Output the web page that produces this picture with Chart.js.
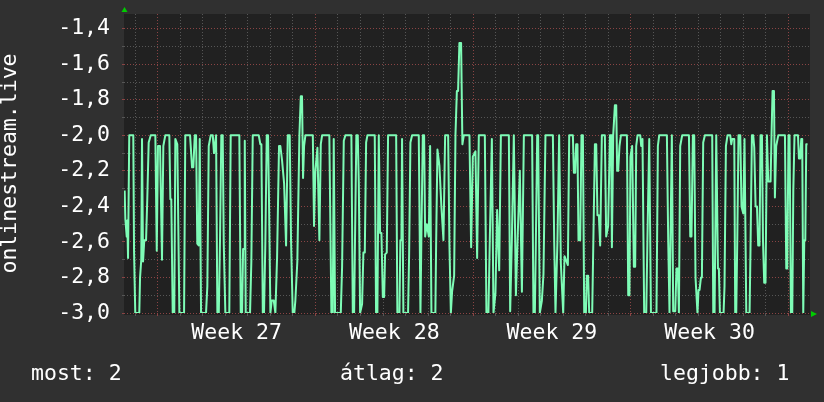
<!DOCTYPE html>
<html>
<head>
<meta charset="utf-8">
<script src="https://cdn.jsdelivr.net/npm/chart.js@4/dist/chart.umd.min.js"></script>
<style>
  html, body { margin: 0; padding: 0; background: #303030; }
</style>
</head>
<body>
<canvas id="chart" width="824" height="402"></canvas>
<script>
// hours since the left edge of the graph, and the value at that moment
const hours = [
  0.7, 1.4, 2.9, 3.5, 4.3, 5.6, 9.9, 10.7, 12.0, 16.3, 17.1, 18.4, 19.2, 20.3, 21.6, 23.5, 24.8, 26.3, 28.5, 33.4, 34.9, 36.2, 38.4, 40.5, 41.9, 44.0, 48.3, 49.4, 50.4, 51.9, 53.6, 54.7, 56.8, 59.0, 64.0, 65.3, 70.4, 72.5, 73.9, 75.4, 76.8, 78.1, 79.6, 80.7, 82.1, 87.4, 88.8, 90.3, 92.4, 94.6, 95.9, 98.1, 99.5, 101.0, 102.3, 103.7, 105.2, 106.3, 108.0, 112.2, 113.7, 122.9,
  124.4, 125.8, 126.9, 127.9, 128.7, 129.7, 134.3, 135.7, 137.2, 143.6, 145.3, 146.4, 147.9, 149.2, 150.6, 152.1, 153.5, 154.6, 156.0, 157.4, 159.6, 161.3, 163.1, 165.2, 166.6, 168.4, 170.6, 172.7, 174.5, 176.6, 178.0, 179.8, 181.5, 182.6, 184.7, 186.9, 188.4, 189.7, 190.8, 191.9, 193.3, 201.2, 202.5, 203.9, 206.1, 208.2, 209.7, 211.1, 218.8, 221.0, 222.5, 223.5, 224.9, 231.0, 232.4, 234.2, 235.9, 242.3,
  243.8, 245.2, 246.2, 247.6, 249.1, 250.2, 251.6, 253.7, 255.1, 256.6, 258.0, 259.4, 267.2, 268.6, 270.0, 271.5, 272.9, 274.3, 275.8, 277.2, 278.2, 280.0, 281.4, 290.0, 291.3, 293.5, 294.5, 295.6, 296.3, 297.7, 302.7, 303.8, 305.2, 307.0, 314.1, 315.9, 316.9, 318.4, 319.8, 320.9, 322.7, 324.8, 326.2, 327.6, 331.8, 332.6, 334.0, 336.1, 338.2, 340.4, 342.2, 345.4, 346.8, 348.3, 349.6, 351.8, 353.2, 354.7, 356.0, 357.4, 359.2, 360.6, 362.1,
  368.1, 369.9, 371.7, 374.5, 376.3, 378.1, 384.5, 386.2, 388.3, 389.8, 392.0, 393.7, 395.8, 397.6, 399.8, 401.6, 410.1, 411.5, 413.3, 415.4, 417.6, 419.7, 421.8, 424.0, 426.1, 434.9, 436.3, 437.8, 438.9, 440.3, 441.3, 443.1, 445.3, 447.0, 449.1, 457.0, 458.4, 459.8, 461.9, 463.7, 465.5, 468.0, 469.4, 473.0, 474.4, 478.3, 479.4, 480.8, 481.8, 483.2, 484.3, 486.1,
  487.5, 489.0, 490.4, 492.2, 493.2, 494.6, 495.7, 498.9, 500.0, 501.8, 503.2, 504.5, 506.0, 507.4, 509.2, 512.4, 513.8, 515.9, 517.8, 519.1, 519.9, 521.3, 523.1, 524.5, 525.5, 526.6, 528.0, 529.5, 535.9, 537.3, 538.6, 539.7, 541.5, 543.3, 544.7, 545.8, 547.2, 550.1, 551.1, 552.5, 554.3, 556.5, 557.8, 559.7, 561.5, 567.4, 568.9, 570.3, 578.5, 579.9, 581.3, 583.8, 585.2, 587.4, 588.7, 590.2, 591.3, 592.7, 594.8, 602.0, 603.4, 604.7, 606.2, 607.6, 609.0,
  611.1, 612.2, 613.3, 614.8, 615.8, 617.2, 619.0, 626.8, 627.9, 629.3, 631.1, 632.9, 633.9, 635.0, 638.9, 639.9, 641.4, 643.1, 646.0, 647.1, 648.1, 650.3, 651.3, 652.4, 653.5, 654.8, 656.7, 658.0, 659.9, 661.2, 663.1, 666.6, 667.6, 669.1, 670.5, 671.6, 673.0, 674.5, 675.8, 677.2, 678.3, 679.8, 680.9, 682.2, 683.6, 685.1, 686.5, 689.0, 690.0, 691.1, 692.6, 693.6, 695.0, 697.2, 704.3, 705.7, 706.8, 708.1, 709.2, 710.7, 712.1, 713.2, 714.5, 718.2, 719.2, 720.6, 721.7, 722.7, 723.8, 724.9, 726.0, 727.0, 728.4
];
const values = [
  -2.31, -2.47, -2.57, -2.48, -2.69, -2.0, -2.0, -2.65, -3.0, -3.0, -2.8, -2.7, -2.02, -2.71, -2.59, -2.59, -2.36, -2.04, -2.0, -2.0, -2.65, -2.06, -2.06, -2.7, -2.06, -2.0, -2.0, -2.36, -2.36, -3.0, -3.0, -2.02, -2.05, -3.0, -3.0, -2.0, -2.0, -2.18, -2.18, -2.0, -2.0, -2.61, -2.62, -2.02, -3.0, -3.0, -2.85, -2.06, -2.0, -2.0, -2.1, -2.0, -3.0, -3.0, -2.59, -2.0, -2.0, -2.61, -3.0, -3.0, -2.0, -2.0,
  -3.0, -3.0, -2.64, -2.64, -2.03, -3.0, -3.0, -2.71, -2.0, -2.0, -2.05, -2.05, -3.0, -3.0, -2.61, -2.0, -2.0, -2.4, -3.0, -2.93, -2.93, -3.0, -2.69, -2.06, -2.06, -2.14, -2.27, -2.62, -2.0, -2.0, -2.59, -3.0, -3.0, -2.93, -2.71, -2.0, -1.78, -1.78, -2.24, -2.06, -2.0, -2.0, -2.51, -2.2, -2.07, -2.59, -2.05, -2.0, -2.0, -3.0, -3.0, -2.02, -3.0, -3.0, -2.74, -2.03, -2.0, -2.0,
  -3.0, -3.0, -2.57, -2.0, -2.0, -2.27, -3.0, -2.95, -2.66, -2.66, -2.04, -2.0, -2.0, -3.0, -3.0, -2.0, -2.55, -2.55, -2.91, -2.91, -2.67, -2.66, -2.0, -2.0, -3.0, -3.0, -2.59, -2.59, -2.02, -3.0, -3.0, -2.68, -2.04, -2.0, -2.0, -3.0, -2.57, -2.0, -2.0, -2.57, -2.5, -2.57, -2.06, -3.0, -3.0, -2.61, -2.08, -2.17, -2.4, -2.59, -2.0, -2.0, -2.62, -3.0, -2.88, -2.79, -2.0, -1.75, -1.75, -1.48, -1.48, -2.05, -2.0,
  -2.0, -2.63, -2.12, -2.09, -2.69, -2.0, -2.0, -3.0, -3.0, -2.59, -2.02, -3.0, -2.89, -2.42, -2.76, -2.0, -2.0, -2.99, -2.59, -2.0, -2.9, -2.54, -2.2, -2.88, -2.0, -2.0, -3.0, -3.0, -2.59, -2.0, -2.0, -3.0, -2.93, -2.78, -2.0, -2.0, -2.59, -3.0, -2.59, -2.0, -2.72, -3.0, -2.68, -2.73, -2.0, -2.0, -2.21, -2.21, -2.05, -2.05, -2.59, -2.59,
  -2.0, -2.0, -3.0, -3.0, -2.79, -2.79, -3.0, -3.0, -2.64, -2.05, -2.05, -2.45, -2.45, -2.62, -2.0, -2.0, -2.57, -2.51, -2.0, -2.0, -2.63, -2.0, -1.83, -1.83, -2.2, -2.2, -2.06, -2.0, -2.0, -2.9, -2.9, -2.12, -2.06, -2.74, -2.74, -2.06, -2.0, -2.0, -2.06, -2.02, -3.0, -3.0, -2.57, -2.02, -3.0, -3.0, -2.06, -2.0, -2.0, -2.59, -3.0, -2.0, -2.99, -2.99, -2.75, -2.75, -3.0, -2.06, -2.0, -2.0, -2.57, -2.57, -2.0, -2.0, -2.8,
  -3.0, -2.87, -2.87, -2.8, -2.8, -2.04, -2.0, -2.0, -3.0, -3.0, -2.0, -2.75, -2.75, -3.0, -3.0, -2.85, -2.06, -2.0, -2.0, -2.05, -2.02, -2.02, -3.0, -3.0, -2.59, -2.0, -2.0, -2.4, -2.44, -2.02, -3.0, -3.0, -2.64, -2.0, -2.0, -2.07, -2.4, -2.4, -2.62, -2.62, -2.0, -2.0, -2.59, -2.83, -2.83, -2.0, -2.26, -2.26, -2.0, -1.75, -1.75, -2.35, -2.06, -2.0, -2.0, -2.75, -2.75, -2.0, -2.0, -3.0, -3.0, -2.31, -2.0, -2.0, -2.13, -2.13, -2.02, -2.02, -3.0, -2.59, -2.59, -2.05, -2.05
];

// week labels sit in the middle of each week (hours)
const weekCenters = [120, 288, 456, 624];
const weekLabels = ["Week 27", "Week 28", "Week 29", "Week 30"];
const yTitle = "onlinestream.live";
const legendItems = ["most: 2", "átlag: 2", "legjobb: 1"];

const FONT = '"DejaVu Sans Mono", monospace';
const gridMinor = "#565656";
const gridMajor = "#8a4444";

// hintergrund, pfeile und legende
const decor = {
  id: "decor",
  beforeDraw(chart) {
    const { ctx, chartArea: a } = chart;
    ctx.save();
    ctx.fillStyle = "#303030";
    ctx.fillRect(0, 0, chart.width, chart.height);
    ctx.fillStyle = "#212121";
    ctx.fillRect(a.left, a.top, a.right - a.left, a.bottom - a.top + 2);
    ctx.restore();
  },
  afterDraw(chart) {
    const { ctx, chartArea: a } = chart;
    ctx.save();
    ctx.fillStyle = "#00cc00";
    ctx.beginPath();
    ctx.moveTo(a.left + 0.5, a.top - 7);
    ctx.lineTo(a.left - 2.5, a.top - 2);
    ctx.lineTo(a.left + 3.5, a.top - 2);
    ctx.closePath();
    ctx.fill();
    ctx.beginPath();
    ctx.moveTo(a.right + 7, a.bottom + 1);
    ctx.lineTo(a.right + 1, a.bottom - 2);
    ctx.lineTo(a.right + 1, a.bottom + 4);
    ctx.closePath();
    ctx.fill();

    ctx.fillStyle = "#ffffff";
    ctx.font = "21.5px " + FONT;
    ctx.textBaseline = "alphabetic";
    ctx.textAlign = "left";
    ctx.fillText(legendItems[0], 31, 380);
    ctx.fillText(legendItems[1], 340, 380);
    ctx.fillText(legendItems[2], 660, 380);
    ctx.restore();
  }
};

new Chart(document.getElementById("chart"), {
  type: "line",
  data: {
    datasets: [{
      data: hours.map((h, i) => ({ x: h, y: values[i] })),
      borderColor: "#7efcb6",
      borderWidth: 2,
      borderJoinStyle: "round",
      pointRadius: 0,
      tension: 0,
      fill: false
    }]
  },
  options: {
    responsive: false,
    animation: false,
    layout: { padding: { left: 0, right: 14, top: 14, bottom: 0 } },
    plugins: { legend: { display: false }, tooltip: { enabled: false } },
    scales: {
      x: {
        type: "linear",
        min: 0,
        max: 731,
        afterFit(s) {
          s.height = 89;
          s.paddingLeft = 0;
          s.paddingRight = 0;
        },
        border: { display: false, dash: [1, 2] },
        grid: {
          lineWidth: 1,
          tickLength: 3,
          color(c) {
            const v = Math.round(c.tick.value);
            if (v % 24 !== 12) return "rgba(0,0,0,0)";
            return (v - 36) % 168 === 0 ? gridMajor : gridMinor;
          }
        },
        ticks: {
          stepSize: 12,
          includeBounds: false,
          autoSkip: false,
          maxRotation: 0,
          color: "#ffffff",
          padding: 5,
          font: { family: FONT, size: 21.5 },
          callback(v) {
            const i = weekCenters.indexOf(Math.round(v));
            return i >= 0 ? weekLabels[i] : "";
          }
        }
      },
      y: {
        min: -3.0,
        max: -1.317,
        afterFit(s) {
          // keep the plot exactly where the reference has it
          s.width = 124;
          s.paddingTop = 0;
          s.paddingBottom = 0;
        },
        border: { display: false, dash: [1, 2] },
        grid: {
          lineWidth: 1,
          tickLength: 2,
          color(c) {
            return Math.round(c.tick.value * 10) % 2 === 0 ? gridMajor : gridMinor;
          }
        },
        ticks: {
          stepSize: 0.1,
          includeBounds: false,
          autoSkip: false,
          color: "#ffffff",
          padding: 12,
          font: { family: FONT, size: 21.5 },
          callback(v) {
            const k = Math.round(v * 10);
            return k % 2 === 0 ? (k / 10).toFixed(1).replace(".", ",") : "";
          }
        },
        title: {
          display: true,
          text: yTitle,
          color: "#ffffff",
          padding: { top: 0, bottom: 0 },
          font: { family: FONT, size: 21.5, lineHeight: 1 }
        }
      }
    }
  },
  plugins: [decor]
});
</script>
</body>
</html>
